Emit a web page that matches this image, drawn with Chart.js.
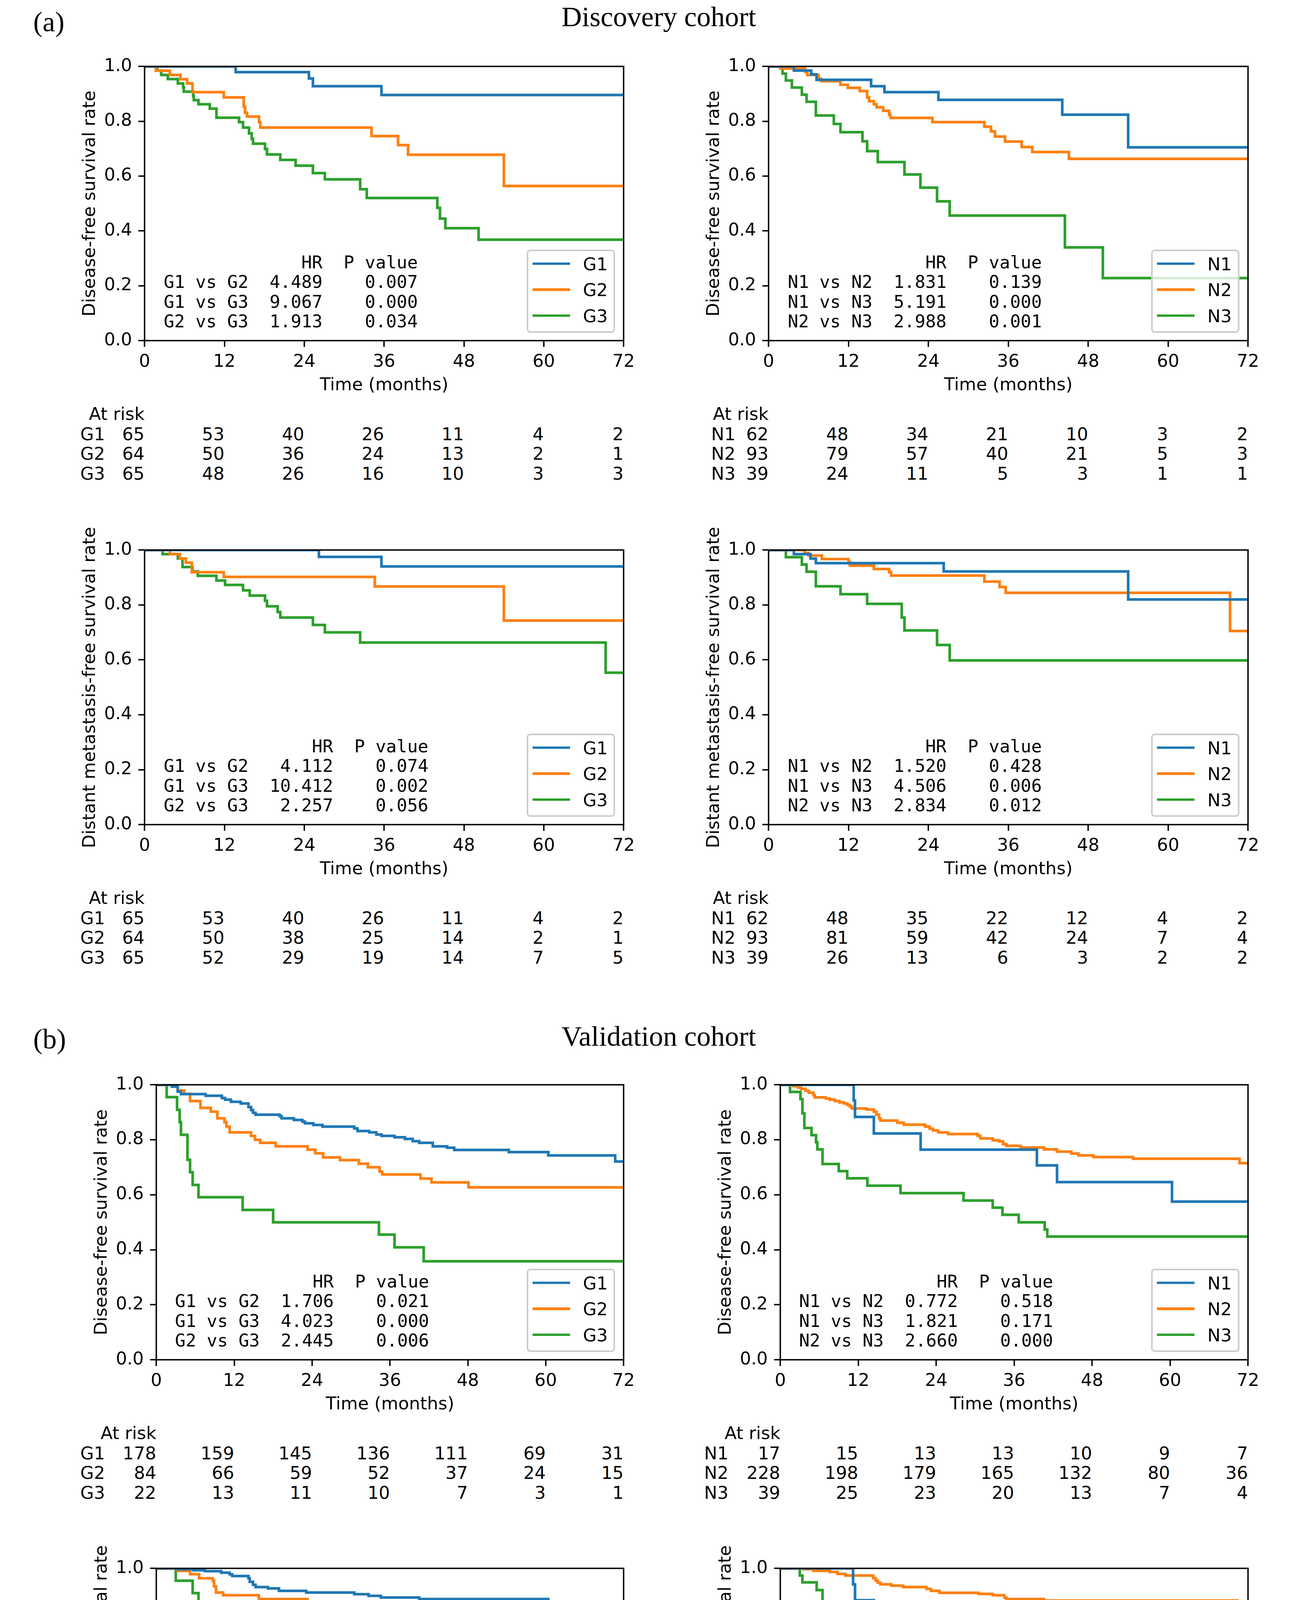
<!DOCTYPE html>
<html><head><meta charset="utf-8">
<script src="https://cdn.jsdelivr.net/npm/chart.js@4.4.1/dist/chart.umd.min.js"></script>
<style>
html,body{margin:0;padding:0;background:#fff;}
#fig{position:relative;width:3304px;height:5285px;overflow:hidden;background:#fff;}
#fig canvas{position:absolute;}
.t{position:absolute;white-space:pre;color:#000;}
</style></head><body><div id="fig"></div>
<script>
// ---------------- DATA ----------------
const timeTicks = [0, 12, 24, 36, 48, 60, 72];
const timeTickLabels = ['0', '12', '24', '36', '48', '60', '72'];
const survTicks = [0, 0.2, 0.4, 0.6, 0.8, 1.0];
const survTickLabels = ['0.0', '0.2', '0.4', '0.6', '0.8', '1.0'];
const gNames = ['G1', 'G2', 'G3'];
const nNames = ['N1', 'N2', 'N3'];
const pairsG = ['G1 vs G2', 'G1 vs G3', 'G2 vs G3'];
const pairsN = ['N1 vs N2', 'N1 vs N3', 'N2 vs N3'];

// Discovery cohort, disease-free survival, by G
const dG1t = [0, 13.7, 24.7, 25.3, 35.6, 72];
const dG1s = [1, 0.979, 0.956, 0.928, 0.896, 0.896];
const dG2t = [0, 1.7, 3.8, 5.4, 6.4, 7.2, 11.9, 14.9, 15.1, 15.4, 17.2, 17.4, 34.1, 38.1, 39.6, 54.0, 72];
const dG2s = [1, 0.984, 0.969, 0.953, 0.938, 0.906, 0.887, 0.853, 0.831, 0.817, 0.797, 0.777, 0.746, 0.713, 0.678, 0.564, 0.564];
const dG3t = [0, 1.9, 2.5, 3.5, 5.0, 5.8, 5.9, 7.3, 7.4, 8.1, 9.8, 10.8, 14.2, 14.8, 15.7, 16.1, 16.3, 18.1, 18.4, 20.4, 22.7, 25.3, 27.1, 32.4, 33.4, 44.0, 44.4, 45.2, 50.2, 72];
const dG3s = [1, 0.985, 0.969, 0.954, 0.938, 0.923, 0.908, 0.892, 0.877, 0.862, 0.846, 0.813, 0.797, 0.777, 0.756, 0.736, 0.718, 0.699, 0.679, 0.659, 0.638, 0.611, 0.588, 0.552, 0.520, 0.484, 0.445, 0.410, 0.368, 0.368];
// Discovery, DFS, by N
const dN1t = [0, 3.8, 6.4, 7.2, 15.4, 17.4, 25.5, 44.1, 54.0, 72];
const dN1s = [1, 0.985, 0.971, 0.951, 0.928, 0.906, 0.878, 0.824, 0.705, 0.705];
const dN2t = [0, 1.8, 5.5, 5.8, 7.5, 7.9, 10.8, 11.9, 13.7, 14.8, 15.1, 15.8, 16.2, 17.2, 18.1, 18.3, 24.6, 32.4, 33.4, 34.0, 35.5, 38.0, 39.6, 45.1, 72];
const dN2s = [1, 0.992, 0.980, 0.969, 0.955, 0.946, 0.933, 0.922, 0.910, 0.887, 0.873, 0.862, 0.851, 0.838, 0.824, 0.812, 0.797, 0.780, 0.763, 0.744, 0.726, 0.706, 0.688, 0.663, 0.663];
const dN3t = [0, 2.1, 2.6, 3.5, 5.0, 5.7, 7.1, 9.8, 10.8, 14.1, 14.8, 16.4, 20.4, 22.8, 25.3, 27.2, 44.5, 50.2, 72];
const dN3s = [1, 0.974, 0.949, 0.923, 0.897, 0.871, 0.821, 0.790, 0.760, 0.727, 0.691, 0.651, 0.606, 0.558, 0.508, 0.456, 0.340, 0.228, 0.228];
// Discovery, distant metastasis-free survival, by G
const mG1t = [0, 26.2, 35.6, 72];
const mG1s = [1, 0.975, 0.940, 0.940];
const mG2t = [0, 3.8, 5.3, 6.2, 7.1, 11.9, 34.6, 54.0, 72];
const mG2s = [1, 0.985, 0.969, 0.954, 0.919, 0.902, 0.867, 0.743, 0.743];
const mG3t = [0, 2.7, 5.0, 5.7, 7.2, 8.0, 10.8, 12.1, 14.8, 15.8, 18.1, 18.4, 20.0, 20.4, 25.3, 27.1, 32.4, 69.3, 72];
const mG3s = [1, 0.985, 0.969, 0.938, 0.922, 0.906, 0.889, 0.873, 0.853, 0.834, 0.815, 0.795, 0.774, 0.754, 0.727, 0.700, 0.663, 0.553, 0.553];
// Discovery, DMFS, by N
const mN1t = [0, 3.8, 6.3, 7.1, 26.3, 54.0, 72];
const mN1s = [1, 0.985, 0.969, 0.952, 0.922, 0.820, 0.820];
const mN2t = [0, 5.4, 6.0, 8.0, 12.0, 12.2, 15.8, 18.1, 18.4, 32.4, 34.7, 35.6, 69.3, 72];
const mN2s = [1, 0.990, 0.980, 0.967, 0.956, 0.943, 0.931, 0.919, 0.907, 0.885, 0.865, 0.844, 0.705, 0.705];
const mN3t = [0, 2.6, 5.0, 5.7, 7.1, 10.8, 14.8, 20.0, 20.4, 25.3, 27.2, 72];
const mN3s = [1, 0.974, 0.947, 0.921, 0.868, 0.839, 0.804, 0.754, 0.707, 0.654, 0.598, 0.598];
// Validation, DFS, by G
const vG1t = [0, 2.4, 3.3, 3.8, 7.6, 10.1, 10.6, 11.5, 13.0, 14.2, 14.6, 14.9, 15.3, 19.0, 19.3, 21.2, 22.5, 22.9, 24.2, 25.6, 30.5, 31.0, 32.8, 33.9, 34.7, 36.7, 38.3, 39.5, 40.5, 42.6, 44.8, 45.9, 54.3, 60.4, 70.7, 72];
const vG1s = [1, 0.993, 0.975, 0.966, 0.960, 0.952, 0.946, 0.938, 0.932, 0.919, 0.908, 0.898, 0.891, 0.886, 0.878, 0.872, 0.866, 0.860, 0.854, 0.848, 0.841, 0.832, 0.827, 0.819, 0.814, 0.809, 0.803, 0.795, 0.789, 0.776, 0.771, 0.763, 0.755, 0.743, 0.721, 0.721];
const vG2t = [0, 3.3, 4.3, 5.2, 6.8, 8.4, 9.4, 10.5, 10.8, 11.3, 14.6, 15.2, 16.0, 18.4, 23.3, 24.5, 25.7, 28.3, 31.2, 32.6, 34.4, 34.8, 40.7, 42.4, 48.1, 72];
const vG2s = [1, 0.979, 0.967, 0.941, 0.916, 0.902, 0.878, 0.864, 0.848, 0.827, 0.814, 0.800, 0.789, 0.776, 0.764, 0.751, 0.736, 0.726, 0.713, 0.700, 0.684, 0.674, 0.659, 0.645, 0.627, 0.627];
const vG3t = [0, 1.6, 3.2, 3.6, 3.8, 4.8, 5.2, 5.6, 6.5, 13.3, 18.0, 34.3, 36.7, 41.2, 72];
const vG3s = [1, 0.955, 0.909, 0.864, 0.818, 0.727, 0.682, 0.636, 0.591, 0.545, 0.500, 0.455, 0.409, 0.358, 0.358];
// Validation, DFS, by N
const vN1t = [0, 11.3, 11.5, 14.4, 21.6, 39.5, 42.6, 60.3, 72];
const vN1s = [1, 0.943, 0.883, 0.823, 0.764, 0.707, 0.646, 0.575, 0.575];
const vN2t = [0, 2.0, 2.7, 3.2, 3.9, 4.4, 5.1, 5.3, 7.0, 7.6, 8.4, 9.1, 9.8, 10.3, 10.7, 11.0, 13.3, 14.4, 14.8, 15.2, 15.4, 18.0, 19.0, 22.3, 23.0, 23.5, 24.3, 25.8, 30.4, 30.8, 32.7, 33.7, 34.3, 34.8, 37.0, 40.6, 42.6, 44.8, 45.9, 48.2, 54.3, 70.7, 72];
const vN2s = [1, 0.995, 0.990, 0.985, 0.978, 0.971, 0.962, 0.954, 0.950, 0.946, 0.941, 0.936, 0.932, 0.927, 0.921, 0.914, 0.910, 0.902, 0.891, 0.878, 0.870, 0.862, 0.855, 0.848, 0.840, 0.834, 0.827, 0.821, 0.814, 0.805, 0.798, 0.794, 0.784, 0.778, 0.772, 0.765, 0.757, 0.750, 0.743, 0.737, 0.731, 0.715, 0.715];
const vN3t = [0, 1.5, 3.1, 3.4, 3.7, 4.8, 5.5, 5.7, 6.5, 9.0, 10.3, 13.4, 18.5, 28.2, 32.7, 34.2, 36.7, 40.7, 41.1, 72];
const vN3s = [1, 0.974, 0.948, 0.896, 0.843, 0.817, 0.791, 0.765, 0.712, 0.686, 0.660, 0.633, 0.606, 0.579, 0.553, 0.527, 0.500, 0.474, 0.448, 0.448];
// Validation, DMFS, by G
const wG1t = [0, 3.2, 5.7, 7.5, 10.0, 11.3, 11.7, 14.2, 14.4, 14.9, 15.3, 17.2, 18.9, 23.1, 30.5, 32.7, 34.6, 40.5, 60.4, 70.7, 72];
const wG1s = [1, 0.997, 0.993, 0.990, 0.984, 0.978, 0.972, 0.964, 0.951, 0.940, 0.932, 0.927, 0.918, 0.912, 0.906, 0.900, 0.894, 0.888, 0.877, 0.852, 0.852];
const wG2t = [0, 3.3, 5.2, 6.6, 8.7, 8.9, 9.2, 10.3, 15.8, 23.3, 24.4, 32.6, 34.5, 34.8, 43.8, 70.3, 72];
const wG2s = [1, 0.991, 0.979, 0.964, 0.955, 0.934, 0.912, 0.902, 0.888, 0.876, 0.862, 0.848, 0.836, 0.819, 0.804, 0.766, 0.766];
const wG3t = [0, 3.0, 5.6, 6.5, 22.4, 34.3, 41.2, 72];
const wG3s = [1, 0.955, 0.910, 0.864, 0.813, 0.762, 0.703, 0.703];
// Validation, DMFS, by N
const wN1t = [0, 11.2, 11.5, 14.4, 60.3, 72];
const wN1s = [1, 0.942, 0.884, 0.824, 0.750, 0.750];
const wN2t = [0, 3.6, 5.1, 7.6, 8.8, 10.0, 14.3, 14.7, 15.0, 15.4, 17.1, 18.9, 22.5, 23.2, 24.5, 30.5, 32.7, 34.5, 34.8, 40.6, 70.4, 70.8, 72];
const wN2s = [1, 0.997, 0.991, 0.987, 0.980, 0.974, 0.964, 0.955, 0.948, 0.942, 0.937, 0.932, 0.925, 0.918, 0.911, 0.907, 0.902, 0.893, 0.888, 0.883, 0.867, 0.847, 0.847];
const wN3t = [0, 3.0, 3.4, 5.6, 6.5, 9.0, 10.3, 32.7, 34.2, 41.2, 43.8, 72];
const wN3s = [1, 0.974, 0.949, 0.921, 0.868, 0.817, 0.790, 0.764, 0.736, 0.709, 0.672, 0.672];

// Numbers at risk
const riskDG1 = [65, 53, 40, 26, 11, 4, 2], riskDG2 = [64, 50, 36, 24, 13, 2, 1], riskDG3 = [65, 48, 26, 16, 10, 3, 3];
const riskDN1 = [62, 48, 34, 21, 10, 3, 2], riskDN2 = [93, 79, 57, 40, 21, 5, 3], riskDN3 = [39, 24, 11, 5, 3, 1, 1];
const riskMG1 = [65, 53, 40, 26, 11, 4, 2], riskMG2 = [64, 50, 38, 25, 14, 2, 1], riskMG3 = [65, 52, 29, 19, 14, 7, 5];
const riskMN1 = [62, 48, 35, 22, 12, 4, 2], riskMN2 = [93, 81, 59, 42, 24, 7, 4], riskMN3 = [39, 26, 13, 6, 3, 2, 2];
const riskVG1 = [178, 159, 145, 136, 111, 69, 31], riskVG2 = [84, 66, 59, 52, 37, 24, 15], riskVG3 = [22, 13, 11, 10, 7, 3, 1];
const riskVN1 = [17, 15, 13, 13, 10, 9, 7], riskVN2 = [228, 198, 179, 165, 132, 80, 36], riskVN3 = [39, 25, 23, 20, 13, 7, 4];
const riskWG1 = [178, 164, 152, 146, 123, 76, 35], riskWG2 = [84, 71, 65, 61, 46, 33, 19], riskWG3 = [22, 18, 16, 15, 12, 7, 5];
const riskWN1 = [17, 15, 14, 14, 13, 11, 9], riskWN2 = [228, 208, 190, 181, 149, 94, 42], riskWN3 = [39, 30, 29, 27, 19, 11, 8];

// Hazard ratios and P values
const hrDG = ['4.489', '9.067', '1.913'], pDG = ['0.007', '0.000', '0.034'];
const hrDN = ['1.831', '5.191', '2.988'], pDN = ['0.139', '0.000', '0.001'];
const hrMG = ['4.112', '10.412', '2.257'], pMG = ['0.074', '0.002', '0.056'];
const hrMN = ['1.520', '4.506', '2.834'], pMN = ['0.428', '0.006', '0.012'];
const hrVG = ['1.706', '4.023', '2.445'], pVG = ['0.021', '0.000', '0.006'];
const hrVN = ['0.772', '1.821', '2.660'], pVN = ['0.518', '0.171', '0.000'];
const hrWG = ['1.723', '2.928', '1.745'], pWG = ['0.101', '0.014', '0.219'];
const hrWN = ['0.552', '1.876', '3.166'], pWN = ['0.271', '0.276', '0.001'];

const dfsLabel = 'Disease-free survival rate';
const dmfsLabel = 'Distant metastasis-free survival rate';
const xLabel = 'Time (months)';

// ---------------- LAYOUT / STYLE ----------------
const COLORS = ['#1f77b4', '#ff7f0e', '#2ca02c'];
const fig = document.getElementById('fig');
const FONTS = {
  sans: {fam: "'DejaVu Sans', sans-serif", a: 0.928, d: 0.236},
  mono: {fam: "'DejaVu Sans Mono', monospace", a: 0.928, d: 0.236},
  serif: {fam: "'Liberation Serif', 'Times New Roman', serif", a: 0.891, d: 0.216}
};
function txt(str, x, base, size, kind, align) {
  const f = FONTS[kind];
  const lh = Math.round(size * 1.3);
  const top = base - ((lh - (f.a + f.d) * size) / 2 + f.a * size);
  const el = document.createElement('div');
  el.className = 't';
  el.textContent = str;
  el.style.left = x + 'px';
  el.style.top = top + 'px';
  el.style.fontFamily = f.fam;
  el.style.fontSize = size + 'px';
  el.style.lineHeight = lh + 'px';
  if (align === 'right') el.style.transform = 'translateX(-100%)';
  else if (align === 'center') el.style.transform = 'translateX(-50%)';
  fig.appendChild(el);
  return el;
}
function ytxt(str, xBase, cy, size) {
  const f = FONTS.sans, lh = Math.round(size * 1.3);
  const bft = (lh - (f.a + f.d) * size) / 2 + f.a * size;
  const wrap = document.createElement('div');
  wrap.style.cssText = `position:absolute;left:${xBase}px;top:${cy}px;width:0;height:0;transform:rotate(-90deg);transform-origin:0 0;`;
  const el = document.createElement('div');
  el.className = 't';
  el.textContent = str;
  el.style.left = '0px';
  el.style.top = (-bft) + 'px';
  el.style.transform = 'translateX(-50%)';
  el.style.fontFamily = f.fam;
  el.style.fontSize = size + 'px';
  el.style.lineHeight = lh + 'px';
  wrap.appendChild(el);
  fig.appendChild(wrap);
}

const frame = {
  id: 'frame',
  afterDatasetsDraw(chart) {
    const {ctx, chartArea: a} = chart;
    ctx.save();
    ctx.strokeStyle = '#000';
    ctx.lineWidth = 3.6;
    ctx.strokeRect(a.left, a.top, a.right - a.left, a.bottom - a.top);
    ctx.restore();
  }
};

const FS = 45;
function makeChart(p) {
  const [l, t, w, h] = p.ax;
  const L = 200, R = 50, T = 80, B = 170;
  const cv = document.createElement('canvas');
  cv.width = w + L + R; cv.height = h + T + B;
  cv.style.left = (l - L) + 'px'; cv.style.top = (t - T) + 'px';
  cv.style.width = cv.width + 'px'; cv.style.height = cv.height + 'px';
  fig.appendChild(cv);
  const font = {family: 'DejaVu Sans', size: FS};
  const grid = {display: true, drawOnChartArea: false, drawTicks: true, tickLength: 16, tickWidth: 3.6, tickColor: '#000', color: '#000', lineWidth: 3.6};
  new Chart(cv, {
    type: 'line',
    data: {
      datasets: p.series.map((s, i) => ({
        label: p.names[i],
        data: s[0].map((x, k) => ({x: x, y: s[1][k]})),
        borderColor: COLORS[i], backgroundColor: COLORS[i],
        borderWidth: 6.75, pointRadius: 0, pointHoverRadius: 0,
        stepped: 'before', fill: false, tension: 0, clip: 0
      }))
    },
    options: {
      responsive: false, animation: false, devicePixelRatio: 1, events: [],
      layout: {padding: {left: 0, top: T, right: R, bottom: 0}},
      plugins: {legend: {display: false}, tooltip: {enabled: false}, title: {display: false}},
      scales: {
        x: {
          type: 'linear', position: 'bottom', min: 0, max: 72,
          afterFit: s => { s.height = B; },
          afterBuildTicks: s => { s.ticks = timeTicks.map(v => ({value: v})); },
          ticks: {autoSkip: false, maxRotation: 0, minRotation: 0, font: font, color: '#000', padding: 12,
                  callback: (v, i) => timeTickLabels[i]},
          title: {display: true, text: xLabel, font: font, color: '#000', padding: {top: 0, bottom: 27.6}},
          grid: grid, border: {display: false}
        },
        y: {
          type: 'linear', position: 'left', min: 0, max: 1,
          afterFit: s => { s.width = L; },
          afterBuildTicks: s => { s.ticks = survTicks.map(v => ({value: v})); },
          ticks: {autoSkip: false, font: font, color: '#000', padding: 16,
                  callback: (v, i) => survTickLabels[i]},
          grid: grid, border: {display: false}
        }
      }
    },
    plugins: [frame]
  });

  // y-axis title
  ytxt(p.ylab, l - 127, t + h / 2, FS);

  // HR / P value table
  const wHR = Math.max(...p.hr.map(s => s.length));
  const lines = [' '.repeat(8 + 2 + wHR - 2) + 'HR  P value'];
  for (let i = 0; i < 3; i++) lines.push(p.pairs[i] + '  ' + p.hr[i].padStart(wHR) + '    ' + p.pv[i]);
  lines.forEach((ln, i) => txt(ln, l + 0.04 * w, t + h - 185 + 50.5 * i, FS, 'mono', 'left'));

  // legend
  const bw = 226, bh = 213;
  const bx = l + w - 22 - bw, by = t + h - 20 - bh;
  const box = document.createElement('div');
  box.style.cssText = `position:absolute;left:${bx}px;top:${by}px;width:${bw}px;height:${bh}px;box-sizing:border-box;border:4px solid #cccccc;border-radius:9px;background:rgba(255,255,255,0.8);`;
  fig.appendChild(box);
  p.names.forEach((nm, i) => {
    const cy = by + 36 + 66.5 * i;
    const ln = document.createElement('div');
    ln.style.cssText = `position:absolute;left:${bx + 14.6}px;top:${cy - 3.375}px;width:96.8px;height:6.75px;background:${COLORS[i]};`;
    fig.appendChild(ln);
    txt(nm, bx + 144, cy + 17, FS, 'sans', 'left');
  });

  // numbers at risk
  txt('At risk', l, t + h + 203, FS, 'sans', 'right');
  const rowBase = [255, 305.5, 356];
  p.risk.forEach((row, r) => {
    const base = t + h + rowBase[r];
    txt(p.names[r], p.rowX, base, FS, 'sans', 'left');
    row.forEach((v, j) => txt(String(v), l + w * timeTicks[j] / 72, base, FS, 'sans', 'right'));
  });
}

// figure titles
txt('(a)', 85, 80, 72, 'serif', 'left');
txt('Discovery cohort', 1686, 67, 72, 'serif', 'center');
txt('(b)', 85, 2684, 72, 'serif', 'left');
txt('Validation cohort', 1686, 2677, 72, 'serif', 'center');

const panels = [
  {ax: [370, 170, 1226, 702], ylab: dfsLabel, names: gNames, pairs: pairsG, hr: hrDG, pv: pDG, rowX: 205.5,
   series: [[dG1t, dG1s], [dG2t, dG2s], [dG3t, dG3s]], risk: [riskDG1, riskDG2, riskDG3]},
  {ax: [1967, 170, 1227, 702], ylab: dfsLabel, names: nNames, pairs: pairsN, hr: hrDN, pv: pDN, rowX: 1820,
   series: [[dN1t, dN1s], [dN2t, dN2s], [dN3t, dN3s]], risk: [riskDN1, riskDN2, riskDN3]},
  {ax: [370, 1408, 1226, 703], ylab: dmfsLabel, names: gNames, pairs: pairsG, hr: hrMG, pv: pMG, rowX: 205.5,
   series: [[mG1t, mG1s], [mG2t, mG2s], [mG3t, mG3s]], risk: [riskMG1, riskMG2, riskMG3]},
  {ax: [1967, 1408, 1227, 703], ylab: dmfsLabel, names: nNames, pairs: pairsN, hr: hrMN, pv: pMN, rowX: 1820,
   series: [[mN1t, mN1s], [mN2t, mN2s], [mN3t, mN3s]], risk: [riskMN1, riskMN2, riskMN3]},
  {ax: [400, 2777, 1196, 704], ylab: dfsLabel, names: gNames, pairs: pairsG, hr: hrVG, pv: pVG, rowX: 205.5,
   series: [[vG1t, vG1s], [vG2t, vG2s], [vG3t, vG3s]], risk: [riskVG1, riskVG2, riskVG3]},
  {ax: [1997, 2777, 1197, 704], ylab: dfsLabel, names: nNames, pairs: pairsN, hr: hrVN, pv: pVN, rowX: 1802,
   series: [[vN1t, vN1s], [vN2t, vN2s], [vN3t, vN3s]], risk: [riskVN1, riskVN2, riskVN3]},
  {ax: [400, 4015, 1196, 703], ylab: dmfsLabel, names: gNames, pairs: pairsG, hr: hrWG, pv: pWG, rowX: 205.5,
   series: [[wG1t, wG1s], [wG2t, wG2s], [wG3t, wG3s]], risk: [riskWG1, riskWG2, riskWG3]},
  {ax: [1997, 4015, 1197, 703], ylab: dmfsLabel, names: nNames, pairs: pairsN, hr: hrWN, pv: pWN, rowX: 1802,
   series: [[wN1t, wN1s], [wN2t, wN2s], [wN3t, wN3s]], risk: [riskWN1, riskWN2, riskWN3]}
];
panels.forEach(makeChart);
</script></body></html>
